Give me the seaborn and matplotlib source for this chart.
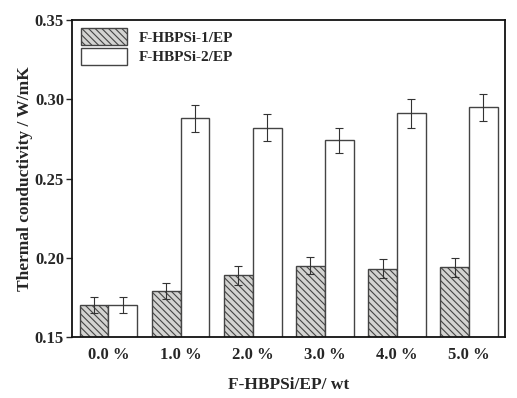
import numpy as np
import pandas as pd
import seaborn as sns
import matplotlib.pyplot as plt

# values
loadings = ['0.0 %', '1.0 %', '2.0 %', '3.0 %', '4.0 %', '5.0 %']
hbpsi1 = [0.170, 0.179, 0.189, 0.195, 0.193, 0.194]
hbpsi1_err = [0.005, 0.005, 0.006, 0.0055, 0.006, 0.006]
hbpsi2 = [0.170, 0.288, 0.282, 0.274, 0.291, 0.295]
hbpsi2_err = [0.005, 0.0085, 0.0085, 0.008, 0.009, 0.0085]
series = ['F-HBPSi-1/EP', 'F-HBPSi-2/EP']

df = pd.DataFrame({
    'loading': loadings * 2,
    'k': hbpsi1 + hbpsi2,
    'err': hbpsi1_err + hbpsi2_err,
    'sample': [series[0]] * 6 + [series[1]] * 6,
})

sns.set_style('ticks')
plt.rcParams['font.family'] = ['Liberation Serif', 'DejaVu Serif']
plt.rcParams['font.weight'] = 'bold'
plt.rcParams['hatch.color'] = '#3a3a3a'
plt.rcParams['hatch.linewidth'] = 0.8

fig, ax = plt.subplots(figsize=(5.17, 3.98), dpi=100)
sns.barplot(data=df, x='loading', y='k', hue='sample', hue_order=series,
            palette=['#d4d4d0', 'white'], errorbar=None, width=0.8,
            edgecolor='#444444', linewidth=1.0, ax=ax)

# hatch the first series and add error bars
n = len(loadings)
hatch = '\\\\\\\\\\'
for i, bar in enumerate(ax.patches[:2 * n]):
    if i < n:
        bar.set_hatch(hatch)
    cx = bar.get_x() + bar.get_width() / 2
    ax.errorbar(cx, bar.get_height(), yerr=df['err'].iloc[i], fmt='none',
                ecolor='#333333', elinewidth=0.8, capsize=3, capthick=0.8)

ax.set_ylim(0.15, 0.35)
ax.set_yticks([0.15, 0.20, 0.25, 0.30, 0.35])
ax.set_yticklabels(['0.15', '0.20', '0.25', '0.30', '0.35'])
ax.set_xlim(-0.5, 5.5)
ax.tick_params(axis='x', length=0, labelsize=12, pad=7)
ax.tick_params(axis='y', length=4, width=1, labelsize=12, pad=2)
for lbl in ax.get_xticklabels() + ax.get_yticklabels():
    lbl.set_fontweight('bold')
for s in ax.spines.values():
    s.set_visible(True)
    s.set_linewidth(1.3)
    s.set_color('#111111')

ax.set_xlabel('F-HBPSi/EP/ wt', fontsize=12.5, fontweight='bold', labelpad=10)
ax.set_ylabel('Thermal conductivity / W/mK', fontsize=12.5, fontweight='bold',
              labelpad=1)

leg = ax.legend(loc='upper left', frameon=False, handlelength=3.0,
                handleheight=1.3, borderaxespad=0.15, labelspacing=0.2,
                handletextpad=0.8, prop={'weight': 'bold', 'size': 11})
leg.legend_handles[0].set_hatch(hatch)

fig.subplots_adjust(left=0.14, right=0.977, top=0.95, bottom=0.153)
fig.savefig('out.png', dpi=100)
